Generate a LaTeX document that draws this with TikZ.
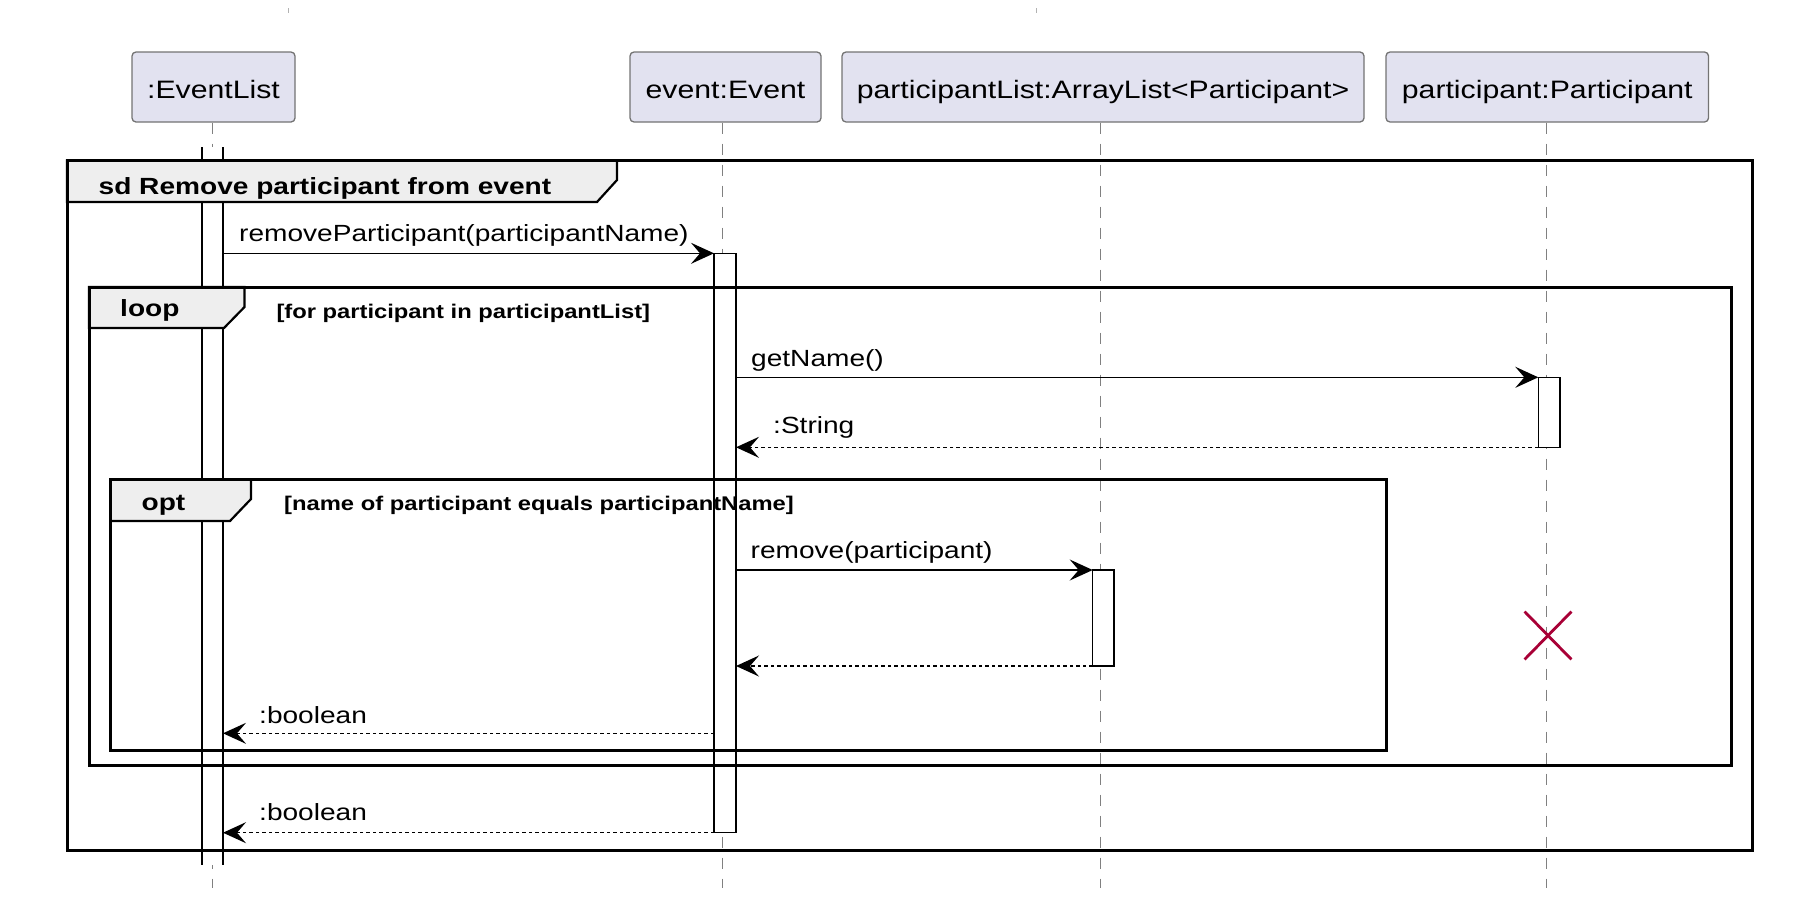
\documentclass[tikz,border=0pt]{standalone}
\usepackage{fontspec}
\setmainfont{Liberation Sans}[FakeStretch=1.2]
\usetikzlibrary{arrows.meta,calc,shapes.misc}
\definecolor{pfill}{RGB}{226,226,240}
\definecolor{tabfill}{RGB}{238,238,238}
\definecolor{xred}{RGB}{168,0,54}
\begin{document}
\begin{tikzpicture}[x=1pt,y=-1pt,
  pbox/.style={draw=black!55, fill=pfill, line width=1.3pt, rounded corners=4pt, inner sep=0pt,
    text height=22.6pt, text depth=0pt, minimum height=70pt, font=\fontsize{25.2}{30}\selectfont},
  lifeline/.style={draw=black!50, line width=1.1pt, dash pattern=on 11pt off 10pt},
  actbox/.style={draw=black, fill=white, line width=1.5pt, inner sep=0pt, outer sep=0pt},
  actline/.style={draw=black, line width=1.5pt},
  msg/.style={draw=black, line width=1.5pt, -{Stealth[length=23pt,width=21pt,inset=9pt]}},
  ret/.style={msg, dash pattern=on 3.5pt off 3pt},
  mlabel/.style={anchor=base west, inner sep=0pt, font=\fontsize{23.4}{28}\selectfont},
  frame/.style={draw=black, line width=3pt},
  tab/.style={draw=black, fill=tabfill, line width=2.2pt},
  tablabel/.style={anchor=base west, inner sep=0pt, font=\fontsize{23.4}{28}\selectfont\bfseries},
  cond/.style={anchor=base west, inner sep=0pt, font=\fontsize{19.8}{24}\selectfont\bfseries},
  tick/.style={draw=black!30, line width=1pt},
]
\useasboundingbox (0,0) rectangle (1798,919);

% top marks
\coordinate (t1a) at (288,8); \coordinate (t1b) at (288,13);
\coordinate (t2a) at (1036,8); \coordinate (t2b) at (1036,13);
\draw[tick] (t1a) -- (t1b);
\draw[tick] (t2a) -- (t2b);

% participants
\node[pbox, minimum width=163pt] (pL) at (213.5,87) {:EventList};
\node[pbox, minimum width=191pt] (pE) at (725.5,87) {event:Event};
\node[pbox, minimum width=522pt] (pA) at (1103,87) {participantList:ArrayList<Participant>};
\node[pbox, minimum width=322.5pt] (pP) at (1547.25,87) {participant:Participant};

% lifelines
\coordinate (lL) at (212.5,888);
\coordinate (lE) at (722.7,888);
\coordinate (lA) at (1100.7,888);
\coordinate (lP) at (1546.7,888);
\draw[lifeline] (pL.south -| lL) -- (lL);
\draw[lifeline] (pE.south -| lE) -- (lE);
\draw[lifeline] (pA.south -| lA) -- (lA);
\draw[lifeline] (pP.south -| lP) -- (lP);

% activations
\node[actbox, draw=none, minimum width=21pt, minimum height=718pt] (actL) at (212.5,506) {};
\draw[actline] (actL.north west) -- (actL.south west) (actL.north east) -- (actL.south east);
\node[actbox, minimum width=22pt, minimum height=579.4pt] (actE) at (725,543) {};
\node[actbox, minimum width=21.1pt, minimum height=96pt] (actA) at (1103.25,618) {};
\node[actbox, minimum width=21.7pt, minimum height=70pt] (actP) at (1549.15,412.3) {};

% frames
\draw[tab] (67,160.5) -- (617,160.5) -- (617,180) -- (597,202) -- (67,202) -- cycle;
\draw[frame] (67,160.5) rectangle (1752,850);
\draw[tab] (89,287) -- (244.5,287) -- (244.5,307) -- (224,328) -- (89,328) -- cycle;
\draw[frame] (89,287) rectangle (1731,765);
\draw[tab] (110.5,479.3) -- (251,479.3) -- (251,499) -- (230,521) -- (110.5,521) -- cycle;
\draw[frame] (110.5,479.3) rectangle (1386.5,750.7);

\node[tablabel] (sdlab) at (98.5,194) {sd Remove participant from event};
\node[tablabel] (looplab) at (120,316.7) {loop};
\node[cond] (loopcond) at (276.3,318) {[for participant in participantList]};
\node[tablabel] (optlab) at (141.4,510) {opt};
\node[cond] (optcond) at (284,510) {[name of participant equals participantName]};

% messages
\draw[msg] (actL.east |- actE.north) -- (actE.north west);
\node[mlabel] (m1lab) at (239,241.7) {removeParticipant(participantName)};

\draw[msg] (actE.east |- actP.north) -- (actP.north west);
\node[mlabel] (m2lab) at (751,366.7) {getName()};

\draw[ret] (actP.south west) -- (actE.east |- actP.south);
\node[mlabel] (m3lab) at (773,433.3) {:String};

\draw[msg] (actE.east |- actA.north) -- (actA.north west);
\node[mlabel] (m4lab) at (750.5,558) {remove(participant)};

\draw[ret] (actA.south west) -- (actE.east |- actA.south);

\coordinate (r1) at (714,733.3);
\draw[ret] (r1) -- (actL.east |- r1);
\node[mlabel] (m6lab) at (259,723.3) {:boolean};

\draw[ret] (actE.south west) -- (actL.east |- actE.south);
\node[mlabel] (m7lab) at (259,820) {:boolean};

% destroy mark
\node[cross out, draw=xred, line width=2.8pt, minimum width=44pt, minimum height=45pt, inner sep=0pt] (destroy) at (1548,635.5) {};
\end{tikzpicture}
\end{document}
